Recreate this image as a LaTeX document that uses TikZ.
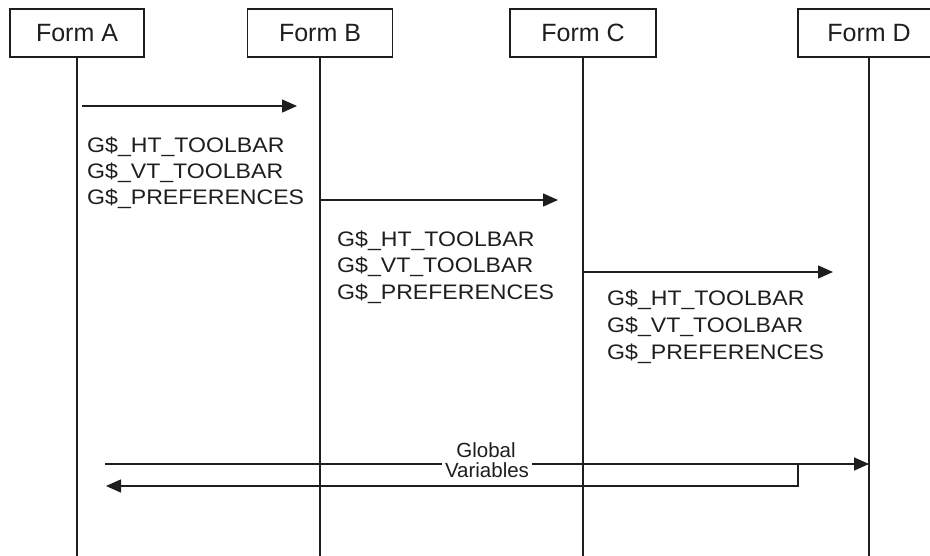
\documentclass[tikz,border=0pt]{standalone}
\usepackage{fontspec}
\setmainfont{Liberation Sans}
\newfontfamily\msgfont[FakeStretch=1.1]{Liberation Sans}
\usetikzlibrary{arrows.meta}
\definecolor{ink}{HTML}{1E1E1E}
\tikzset{
  formbox/.style={draw=ink, line width=1.5pt, minimum height=48pt, inner sep=0pt, text=ink, font=\fontsize{25}{25}\selectfont},
  lifeline/.style={draw=ink, line width=1.5pt},
  msg/.style={draw=ink, line width=1.5pt, -{Triangle[length=15pt,width=13pt]}},
  msgtext/.style={anchor=base west, inner sep=0pt, text=ink, font=\msgfont\fontsize{21}{21}\selectfont},
  gvtext/.style={anchor=base, inner xsep=3pt, inner ysep=2pt, text=ink, font=\fontsize{20.5}{20.5}\selectfont}
}
\begin{document}
\begin{tikzpicture}[x=1pt,y=-1pt]
\useasboundingbox (0,0) rectangle (930,555);
% lifelines bottoms
\coordinate (eA) at (77,560);
\coordinate (eB) at (320,560);
\coordinate (eC) at (583,560);
\coordinate (eD) at (869,560);
% headers
\node[formbox, minimum width=134pt] (fA) at (77,33) {Form A};
\node[formbox, minimum width=145pt] (fB) at (320,33) {Form B};
\node[formbox, minimum width=146pt] (fC) at (583,33) {Form C};
\node[formbox, minimum width=142pt] (fD) at (869,33) {Form D};
\draw[lifeline] (fA.south) -- (eA);
\draw[lifeline] (fB.south) -- (eB);
\draw[lifeline] (fC.south) -- (eC);
\draw[lifeline] (fD.south) -- (eD);
% message arrows
\coordinate (a1s) at (82,106);
\coordinate (a1e) at (297,106);
\draw[msg] (a1s) -- (a1e);
\coordinate (a2s) at (320,200);
\coordinate (a2e) at (558,200);
\draw[msg] (a2s) -- (a2e);
\coordinate (a3s) at (583,272);
\coordinate (a3e) at (833,272);
\draw[msg] (a3s) -- (a3e);
% message texts
\node[msgtext] (t1a) at (87,152) {G\$\_HT\_TOOLBAR};
\node[msgtext] (t1b) at (87,178) {G\$\_VT\_TOOLBAR};
\node[msgtext] (t1c) at (87,204) {G\$\_PREFERENCES};
\node[msgtext] (t2a) at (337,246) {G\$\_HT\_TOOLBAR};
\node[msgtext] (t2b) at (337,272) {G\$\_VT\_TOOLBAR};
\node[msgtext] (t2c) at (337,299) {G\$\_PREFERENCES};
\node[msgtext] (t3a) at (607,305) {G\$\_HT\_TOOLBAR};
\node[msgtext] (t3b) at (607,332) {G\$\_VT\_TOOLBAR};
\node[msgtext] (t3c) at (607,359) {G\$\_PREFERENCES};
% global variables
\coordinate (g1s) at (105,464);
\coordinate (g1e) at (869,464);
\coordinate (gk) at (798,464);
\coordinate (gc) at (798,486);
\coordinate (g2e) at (106,486);
\draw[msg] (g1s) -- (g1e);
\draw[msg] (gk) -- (gc) -- (g2e);
\node[gvtext] (gv1) at (486,457) {Global};
\node[gvtext, fill=white] (gv2) at (487,477) {Variables};
\end{tikzpicture}
\end{document}
